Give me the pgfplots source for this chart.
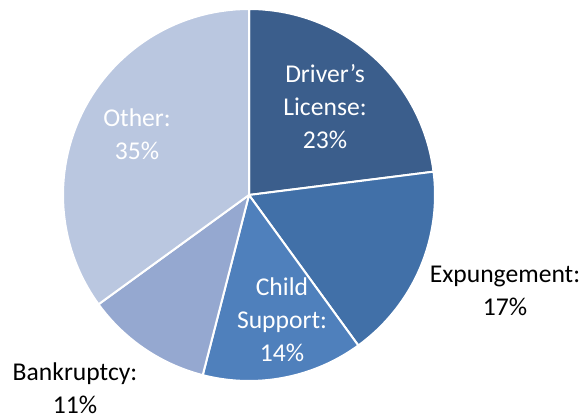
\documentclass[border=0pt]{standalone}
\usepackage{pgfplots}
\pgfplotsset{compat=1.18}
\usepackage{fontspec}
\setmainfont{Carlito}

\definecolor{cDriver}{HTML}{3B5E8C}
\definecolor{cExpung}{HTML}{4170A8}
\definecolor{cChild}{HTML}{4F80BC}
\definecolor{cBankr}{HTML}{95A8D0}
\definecolor{cOther}{HTML}{BAC7E0}

\tikzset{lbl/.style={align=center, font=\fontsize{19.2}{24.75}\selectfont}}

% slice: {cumulative percent before}{percent}{colour}
\newcommand{\slice}[3]{%
  \addplot[fill=#3, draw=white, line width=1.5pt, line join=round,
    domain={90-3.6*(#1+#2)}:{90-3.6*#1}, samples=60, variable=\t]
    ({249+186*cos(\t)}, {220+186*sin(\t)}) -- (axis cs:249,220) -- cycle;
}

\begin{document}
\begin{tikzpicture}
\begin{axis}[
  hide axis, scale only axis,
  width=440.25pt, height=311.25pt,
  xmin=0, xmax=587, ymin=0, ymax=415,
  clip=false,
]
  \path (axis cs:0,0) rectangle (axis cs:587,415);
  % values in percent: Driver's License 23, Expungement 17, Child Support 14, Bankruptcy 11, Other 35
  \slice{0}{23}{cDriver}
  \slice{23}{17}{cExpung}
  \slice{40}{14}{cChild}
  \slice{54}{11}{cBankr}
  \slice{65}{35}{cOther}

  \node[lbl, white] at (axis cs:325,308) {Driver’s\\License:\\23\%};
  \node[lbl, black] at (axis cs:505,124) {Expungement:\\17\%};
  \node[lbl, white] at (axis cs:282,95) {Child\\Support:\\14\%};
  \node[lbl, black] at (axis cs:75,27) {Bankruptcy:\\11\%};
  \node[lbl, white] at (axis cs:137,281) {Other:\\35\%};
\end{axis}
\end{tikzpicture}
\end{document}
